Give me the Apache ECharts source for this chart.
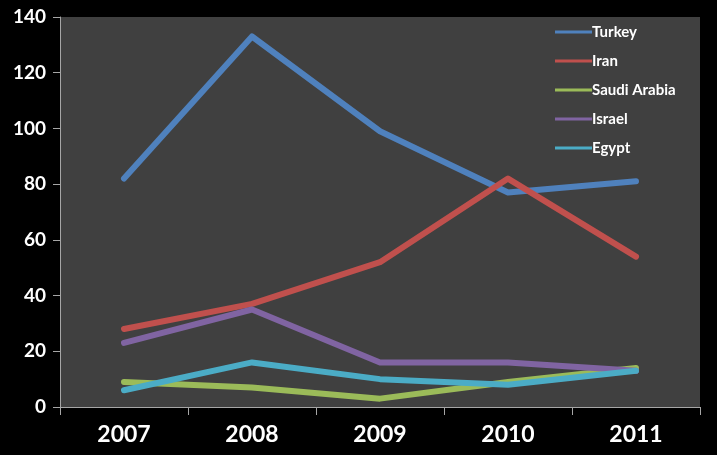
<!DOCTYPE html>
<html>
<head>
<meta charset="utf-8">
<script src="https://cdn.jsdelivr.net/npm/echarts@6/dist/echarts.min.js"></script>
<style>
  html, body { margin: 0; padding: 0; background: #000; }
  #chart { width: 717px; height: 455px; }
</style>
</head>
<body>
<div id="chart"></div>
<script>
// data
const years = ['2007', '2008', '2009', '2010', '2011'];
const turkey = [82, 133, 99, 77, 81];
const iran = [28, 37, 52, 82, 54];
const saudiArabia = [9, 7, 3, 9, 14];
const israel = [23, 35, 16, 16, 13];
const egypt = [6, 16, 10, 8, 13];

const seriesDefs = [
  { name: 'Turkey', data: turkey, color: '#4f81bd' },
  { name: 'Iran', data: iran, color: '#c0504d' },
  { name: 'Saudi Arabia', data: saudiArabia, color: '#9bbb59' },
  { name: 'Israel', data: israel, color: '#8064a2' },
  { name: 'Egypt', data: egypt, color: '#4bacc6' }
];

const axisGray = '#a6a6a6';
const font = 'Lato, "Open Sans", sans-serif';

const chart = echarts.init(document.getElementById('chart'));

chart.setOption({
  backgroundColor: '#000',
  animation: false,
  grid: {
    left: 60, right: 17, top: 17, bottom: 48,
    show: true, backgroundColor: '#404040', borderWidth: 0
  },
  legend: {
    orient: 'vertical',
    left: 550, top: 18,
    icon: 'rect',
    itemWidth: 37, itemHeight: 3,
    itemGap: 11,
    textStyle: { color: '#fff', fontFamily: font, fontWeight: 'bold', fontSize: 15, lineHeight: 18, padding: [0, 0, 0, -5] },
    data: seriesDefs.map(s => s.name)
  },
  xAxis: {
    type: 'category',
    data: years,
    boundaryGap: true,
    axisLine: { lineStyle: { color: axisGray, width: 1 } },
    axisTick: { show: true, length: 8, lineStyle: { color: axisGray } },
    axisLabel: { color: '#fff', fontFamily: font, fontWeight: 'bold', fontSize: 23, margin: 16 }
  },
  yAxis: {
    type: 'value',
    min: 0, max: 140, interval: 20,
    axisLine: { show: true, lineStyle: { color: axisGray, width: 1 } },
    axisTick: { show: true, length: 7, lineStyle: { color: axisGray } },
    splitLine: { show: false },
    axisLabel: { color: '#fff', fontFamily: font, fontWeight: 'bold', fontSize: 19, margin: 14 }
  },
  series: seriesDefs.map(s => ({
    name: s.name,
    type: 'line',
    data: s.data,
    symbol: 'none',
    color: s.color,
    lineStyle: { width: 6, color: s.color, cap: 'round', join: 'round' }
  }))
});
</script>
</body>
</html>
